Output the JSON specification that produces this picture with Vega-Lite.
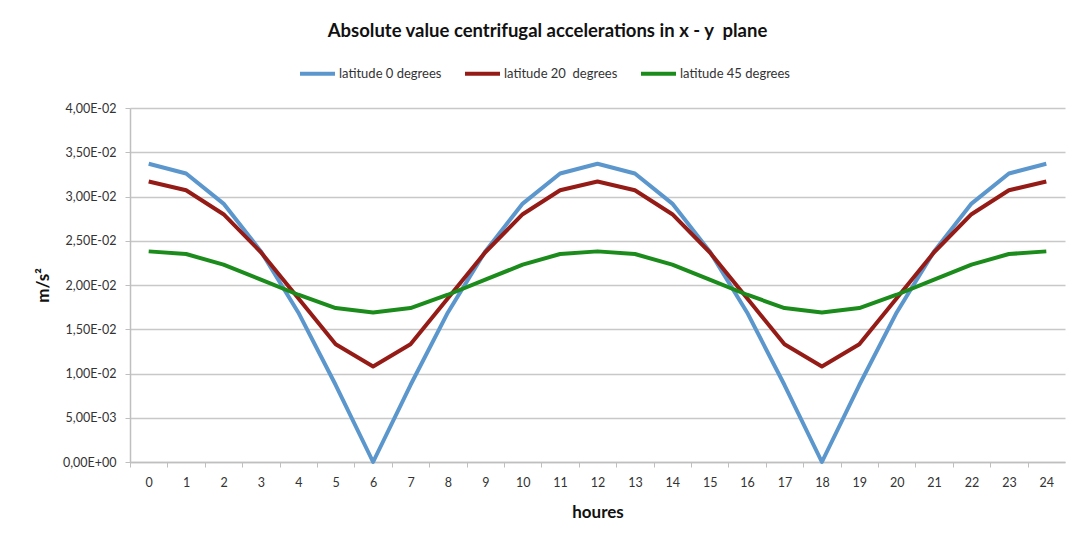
{
  "$schema": "https://vega.github.io/schema/vega-lite/v6.json",
  "width": 935,
  "height": 354,
  "autosize": "none",
  "padding": {"left": 130, "top": 108, "right": 8, "bottom": 78},
  "background": "white",
  "title": {
    "text": "Absolute value centrifugal accelerations in x - y\u00a0 plane",
    "font": "Lato",
    "fontSize": 18.5,
    "fontWeight": "bold",
    "color": "#111111",
    "anchor": "middle",
    "frame": "group",
    "dx": -50,
    "offset": 14
  },
  "data": {
    "values": [
      {"h": 0, "a": 0.0337, "b": 0.0317, "c": 0.0238},
      {"h": 1, "a": 0.0326, "b": 0.0307, "c": 0.0235},
      {"h": 2, "a": 0.0292, "b": 0.0280, "c": 0.0223},
      {"h": 3, "a": 0.0238, "b": 0.0237, "c": 0.0206},
      {"h": 4, "a": 0.0169, "b": 0.0185, "c": 0.0189},
      {"h": 5, "a": 0.0087, "b": 0.0133, "c": 0.0174},
      {"h": 6, "a": 0.0, "b": 0.0108, "c": 0.0169},
      {"h": 7, "a": 0.0087, "b": 0.0133, "c": 0.0174},
      {"h": 8, "a": 0.0169, "b": 0.0185, "c": 0.0189},
      {"h": 9, "a": 0.0238, "b": 0.0237, "c": 0.0206},
      {"h": 10, "a": 0.0292, "b": 0.0280, "c": 0.0223},
      {"h": 11, "a": 0.0326, "b": 0.0307, "c": 0.0235},
      {"h": 12, "a": 0.0337, "b": 0.0317, "c": 0.0238},
      {"h": 13, "a": 0.0326, "b": 0.0307, "c": 0.0235},
      {"h": 14, "a": 0.0292, "b": 0.0280, "c": 0.0223},
      {"h": 15, "a": 0.0238, "b": 0.0237, "c": 0.0206},
      {"h": 16, "a": 0.0169, "b": 0.0185, "c": 0.0189},
      {"h": 17, "a": 0.0087, "b": 0.0133, "c": 0.0174},
      {"h": 18, "a": 0.0, "b": 0.0108, "c": 0.0169},
      {"h": 19, "a": 0.0087, "b": 0.0133, "c": 0.0174},
      {"h": 20, "a": 0.0169, "b": 0.0185, "c": 0.0189},
      {"h": 21, "a": 0.0238, "b": 0.0237, "c": 0.0206},
      {"h": 22, "a": 0.0292, "b": 0.0280, "c": 0.0223},
      {"h": 23, "a": 0.0326, "b": 0.0307, "c": 0.0235},
      {"h": 24, "a": 0.0337, "b": 0.0317, "c": 0.0238}
    ]
  },
  "transform": [
    {"fold": ["a", "b", "c"], "as": ["key", "v"]},
    {"lookup": "key", "from": {"data": {"values": [
      {"key": "a", "series": "latitude 0 degrees"},
      {"key": "b", "series": "latitude 20\u00a0 degrees"},
      {"key": "c", "series": "latitude 45 degrees"}
    ]}, "key": "key", "fields": ["series"]}}
  ],
  "mark": {"type": "line", "strokeWidth": 4, "strokeJoin": "round", "strokeCap": "butt"},
  "encoding": {
    "x": {
      "field": "h",
      "type": "ordinal",
      "sort": "ascending",
      "scale": {"type": "point", "padding": 0.5},
      "axis": {
        "title": "houres",
        "titleFont": "Lato",
        "titleFontSize": 17,
        "titleFontWeight": "bold",
        "titleColor": "#111111",
        "titlePadding": 16,
        "labelAngle": 0,
        "labelFont": "Lato",
        "labelFontSize": 12.5,
        "labelColor": "#333333",
        "labelPadding": 9,
        "labelOffset": 18.7,
        "tickOffset": -18.7,
        "tickSize": 5,
        "tickColor": "#bfbfbf",
        "domainColor": "#bfbfbf",
        "domainWidth": 1.5,
        "grid": false
      }
    },
    "y": {
      "field": "v",
      "type": "quantitative",
      "scale": {"domain": [0, 0.04], "nice": false},
      "axis": {
        "title": "m/s\u00b2",
        "titleFont": "Lato",
        "titleFontSize": 17,
        "titleFontWeight": "bold",
        "titleColor": "#111111",
        "titlePadding": 10,
        "values": [0, 0.005, 0.01, 0.015, 0.02, 0.025, 0.03, 0.035, 0.04],
        "labelExpr": "datum.value == 0 ? '0,00E+00' : (datum.value < 0.0099 ? replace(format(datum.value * 1000, '.2f'), '.', ',') + 'E-03' : replace(format(datum.value * 100, '.2f'), '.', ',') + 'E-02')",
        "labelFont": "Lato",
        "labelFontSize": 12.5,
        "labelColor": "#333333",
        "labelPadding": 9,
        "tickSize": 5,
        "tickColor": "#bfbfbf",
        "domainColor": "#bfbfbf",
        "domainWidth": 1.5,
        "grid": true,
        "gridColor": "#c8c8c8",
        "gridWidth": 1.5
      }
    },
    "color": {
      "field": "series",
      "type": "nominal",
      "scale": {
        "domain": ["latitude 0 degrees", "latitude 20\u00a0 degrees", "latitude 45 degrees"],
        "range": ["#5b97cc", "#951b17", "#1b8c1b"]
      },
      "legend": {
        "title": null,
        "orient": "none",
        "direction": "horizontal",
        "legendX": 168,
        "legendY": -54,
        "symbolType": "M-1,0H1",
        "symbolSize": 1225,
        "symbolStrokeWidth": 4,
        "symbolOffset": 0,
        "labelFont": "Lato",
        "labelFontSize": 13,
        "labelColor": "#333333",
        "labelOffset": 2,
        "columnPadding": 15
      }
    }
  },
  "config": {
    "view": {"stroke": null}
  }
}
